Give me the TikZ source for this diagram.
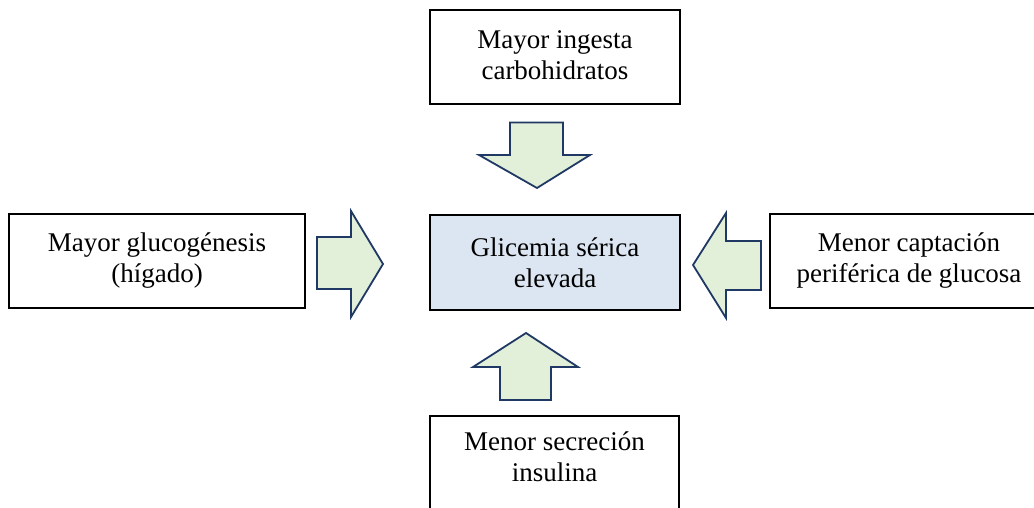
\documentclass[tikz,border=0pt]{standalone}
\usepackage{fontspec}
\setmainfont{Liberation Serif}
\definecolor{arrowfill}{RGB}{226,239,217}
\definecolor{arrowline}{RGB}{31,56,100}
\definecolor{centerfill}{RGB}{220,230,242}
\begin{document}
\begin{tikzpicture}[x=1pt,y=-1pt,
  box/.style={draw=black,line width=1.3pt,align=center,inner sep=0pt,
    font=\fontsize{27}{31}\selectfont},
  blockarrow/.style={draw=arrowline,fill=arrowfill,line width=1.8pt,line join=miter}]
\useasboundingbox (0,0) rectangle (1034,508);
\clip (0,0) rectangle (1034,508);
% boxes
\node[box,minimum width=250pt,minimum height=94pt] (top) at (555,57) {};
\node[font=\fontsize{27}{31}\selectfont,align=center] (toptext) at (555,55) {Mayor ingesta\\carbohidratos};
\node[box,fill=centerfill,minimum width=250pt,minimum height=95pt] (center) at (555,262.5) {Glicemia sérica\\elevada};
\node[box,minimum width=296pt,minimum height=94pt] (left) at (157,261) {Mayor glucogénesis\\(hígado)};
\node[box,minimum width=278pt,minimum height=94pt] (right) at (909,261) {Menor captación\\periférica de glucosa};
\node[box,minimum width=249pt,minimum height=96pt] (bottom) at (554.5,464) {};
\node[font=\fontsize{27}{31}\selectfont,align=center] (bottomtext) at (554.5,457) {Menor secreción\\insulina};
% down arrow (top)
\draw[blockarrow] (510,122.5) -- (563,122.5) -- (563,155) -- (590,155) -- (537,188) -- (479,155) -- (510,155) -- cycle;
% up arrow (bottom)
\draw[blockarrow] (500,400) -- (551,400) -- (551,367) -- (578,367) -- (526,333) -- (473,367) -- (500,367) -- cycle;
% right-pointing arrow (left)
\draw[blockarrow] (317,237) -- (351,237) -- (351,211) -- (383,264) -- (351,317) -- (351,289) -- (317,289) -- cycle;
% left-pointing arrow (right)
\draw[blockarrow] (761,241) -- (726,241) -- (726,213) -- (693,265) -- (726,318) -- (726,290) -- (761,290) -- cycle;
\end{tikzpicture}
\end{document}
